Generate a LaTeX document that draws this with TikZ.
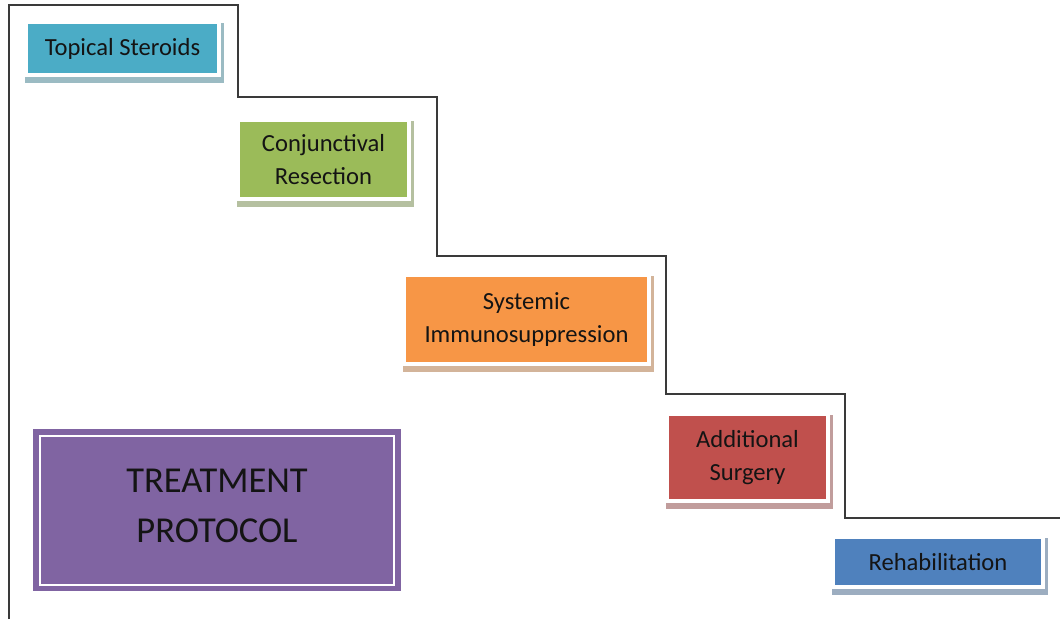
\documentclass[tikz,border=0pt]{standalone}
\usepackage{fontspec}
\setmainfont{Carlito}
\definecolor{cAqua}{HTML}{4BACC6}
\definecolor{cGreen}{HTML}{9BBB59}
\definecolor{cOrange}{HTML}{F79646}
\definecolor{cRed}{HTML}{C0504D}
\definecolor{cBlue}{HTML}{4F81BD}
\definecolor{cPurple}{HTML}{8064A2}
\definecolor{cLine}{HTML}{3A3A3A}
\definecolor{cText}{HTML}{141414}
\tikzset{
  stepbox/.style={draw=white, line width=4pt, inner sep=0pt, align=center,
    text=cText, font=\fontsize{24.6}{33}\selectfont},
  stairline/.style={draw=cLine, line width=1.4pt},
  titlebox/.style={fill=cPurple, inner sep=0pt, align=center, text=cText,
    font=\fontsize{36.5}{50}\selectfont}
}
\newcommand{\stepnode}[7]{%
  \fill[#6!50!gray!65!white] ({#2-3},{#3-1}) rectangle ({#4+7},{#5+10});
  \node[stepbox, fill=#6, minimum width={#4-#2+4}, minimum height={#5-#3+4}]
    (#1) at ({(#2+#4)/2},{(#3+#5)/2}) {#7};
}
\begin{document}
\begin{tikzpicture}[x=1pt,y=-1pt]
\useasboundingbox (0,0) rectangle (1060,619);
\fill[white] (0,0) rectangle (1060,619);
% staircase
\coordinate (s0) at (9,619);
\coordinate (s1) at (9,5);
\coordinate (s2) at (238,5);
\coordinate (s3) at (238,97);
\coordinate (s4) at (437,97);
\coordinate (s5) at (437,256);
\coordinate (s6) at (666,256);
\coordinate (s7) at (666,394);
\coordinate (s8) at (845,394);
\coordinate (s9) at (845,518);
\coordinate (s10) at (1060,518);
\draw[stairline] (s0) -- (s1) -- (s2) -- (s3) -- (s4) -- (s5) -- (s6) -- (s7) -- (s8) -- (s9) -- (s10);
% steps
\stepnode{topical}{28}{24}{217}{73}{cAqua}{Topical Steroids}
\stepnode{conj}{240}{122}{407}{197}{cGreen}{Conjunctival\\Resection}
\stepnode{sys}{406}{277}{647}{362}{cOrange}{Systemic\\Immunosuppression}
\stepnode{addsurg}{669}{416}{826}{499}{cRed}{Additional\\Surgery}
\stepnode{rehab}{835}{539}{1041}{585}{cBlue}{Rehabilitation}
% title
\node[titlebox, minimum width=368, minimum height=162] (tp) at (217,510) {};
\node[titlebox, fill=none] (tptext) at (217,506) {TREATMENT\\PROTOCOL};
\draw[white, line width=2pt] ([shift={(7.5pt,6.5pt)}]tp.south west) rectangle ([shift={(-7.5pt,-7.5pt)}]tp.north east);
\end{tikzpicture}
\end{document}
